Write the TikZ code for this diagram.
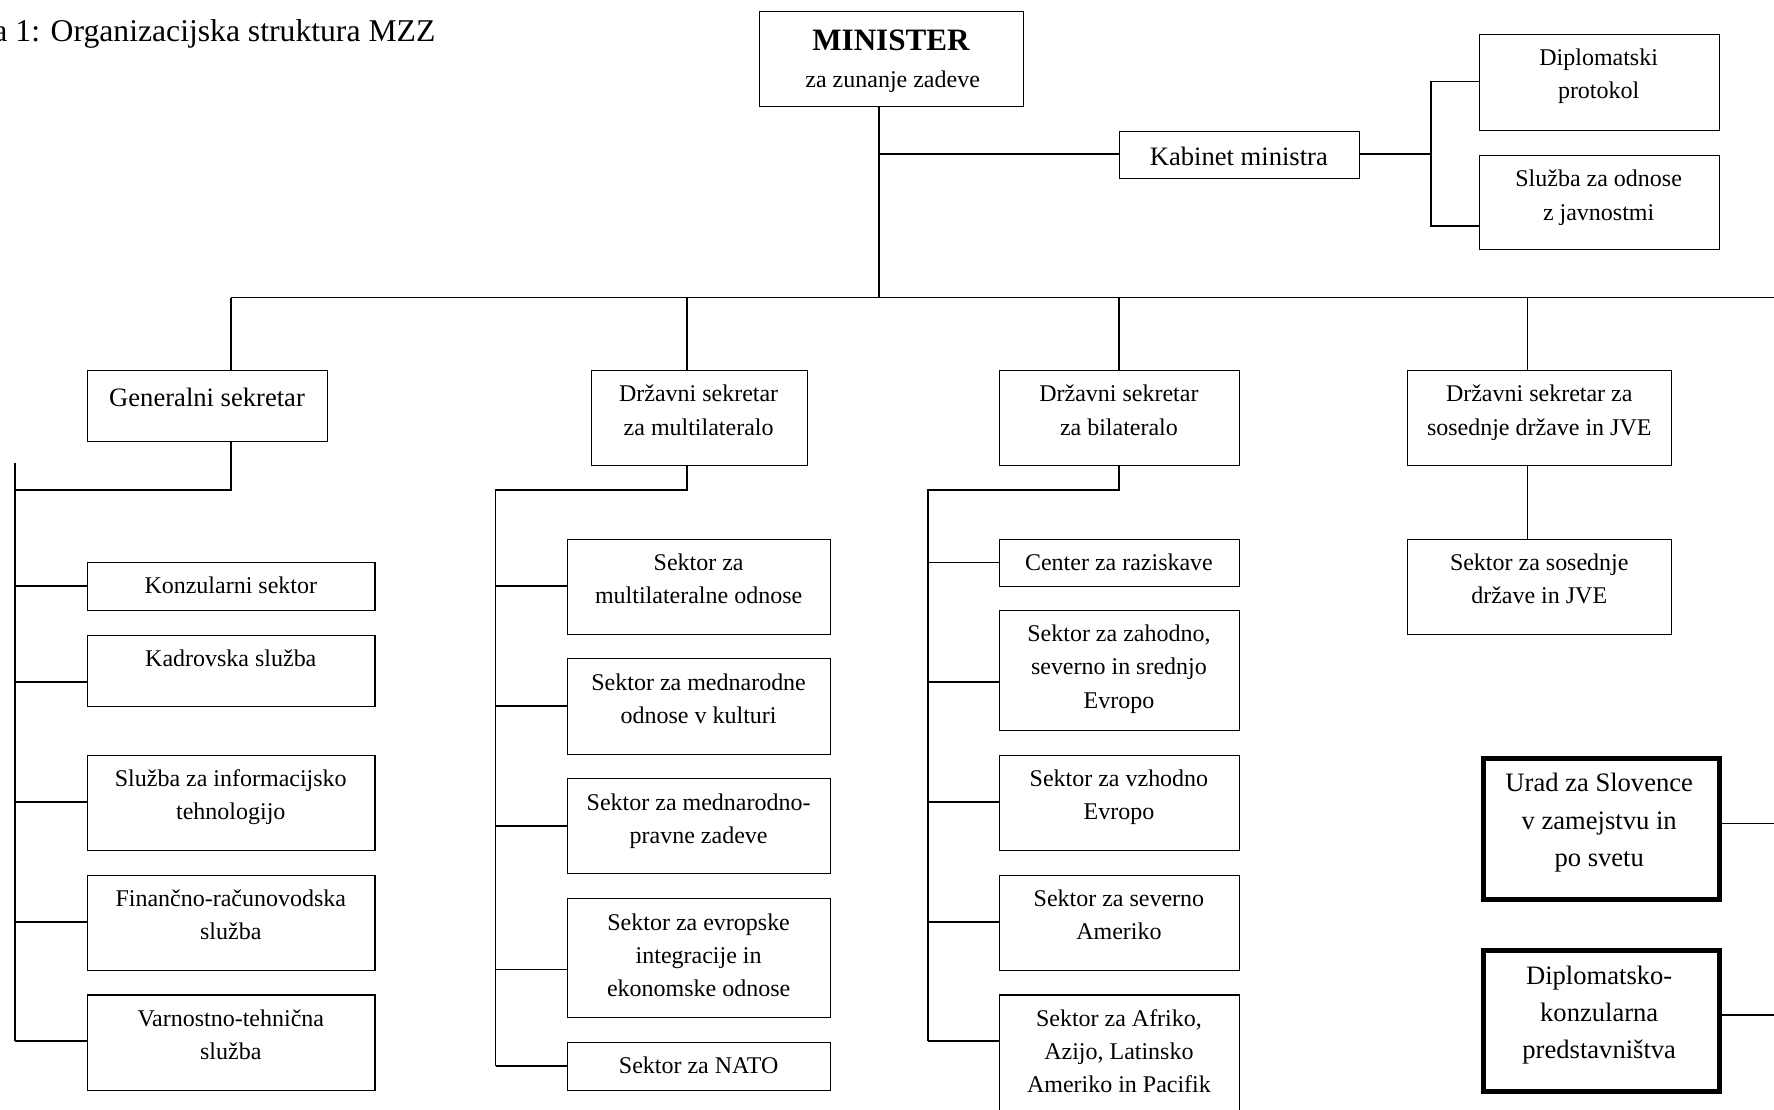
\documentclass[tikz,border=0pt]{standalone}
\usepackage{fontspec}
\setmainfont{Liberation Serif}
\usetikzlibrary{calc}
\tikzset{
  orgbox/.style={draw=black, line width=0.9pt, inner sep=0pt, anchor=north west},
  boldbox/.style={draw=black, line width=4.5pt, inner sep=0pt, anchor=north west},
  lbl/.style={inner sep=0pt, anchor=base, align=center, font=\fontsize{21.2}{29.5}\selectfont},
  lblbig/.style={lbl, font=\fontsize{23.5}{33}\selectfont},
  conn/.style={line width=1.4pt},
}
\begin{document}
\begin{tikzpicture}[x=1pt,y=-1pt]
\clip (0,0) rectangle (1568,981);
\fill[white] (0,0) rectangle (1568,981);

% title (base anchor = last line baseline)
\node[inner sep=0pt, anchor=base east, font=\fontsize{28}{30}\selectfont] (title) at (385,37) {a 1: Organizacijska struktura MZZ};

% top level
\node[orgbox, minimum width=233pt, minimum height=84pt] (min) at (671,10) {};
\node[lbl, font=\fontsize{27.5}{30}\selectfont\bfseries] (minT) at (787.5,44.5) {MINISTER};
\node[lbl] (minS) at (789,77) {za zunanje zadeve};

\node[orgbox, minimum width=212pt, minimum height=41pt] (kab) at (989,116) {};
\node[lblbig] (kabT) at (1095,146) {Kabinet ministra};

\node[orgbox, minimum width=212pt, minimum height=85pt] (dip) at (1307,30) {};
\node[lbl] (dipT) at (1413,87.5) {Diplomatski\\protokol};

\node[orgbox, minimum width=212pt, minimum height=83pt] (sjo) at (1307,137) {};
\node[lbl] (sjoT) at (1413,194.5) {Služba za odnose\\z javnostmi};

% second level
\node[orgbox, minimum width=212pt, minimum height=63pt] (gs) at (77,327) {};
\node[lblbig] (gsT) at (183,359) {Generalni sekretar};

\node[orgbox, minimum width=191pt, minimum height=84pt] (dsm) at (522,327) {};
\node[lbl] (dsmT) at (617.5,384.5) {Državni sekretar\\za multilateralo};

\node[orgbox, minimum width=212pt, minimum height=84pt] (dsb) at (883,327) {};
\node[lbl] (dsbT) at (989,384.5) {Državni sekretar\\za bilateralo};

\node[orgbox, minimum width=233pt, minimum height=84pt] (dss) at (1244,327) {};
\node[lbl] (dssT) at (1360.5,384.5) {Državni sekretar za\\sosednje države in JVE};

% column: generalni sekretar
\node[orgbox, minimum width=254pt, minimum height=42pt] (ks) at (77,497) {};
\node[lbl] (ksT) at (204,525) {Konzularni sektor};
\node[orgbox, minimum width=254pt, minimum height=63pt] (kad) at (77,561) {};
\node[lbl] (kadT) at (204,589) {Kadrovska služba};
\node[orgbox, minimum width=254pt, minimum height=84pt] (sit) at (77,667) {};
\node[lbl] (sitT) at (204,724.5) {Služba za informacijsko\\tehnologijo};
\node[orgbox, minimum width=254pt, minimum height=84pt] (frs) at (77,773) {};
\node[lbl] (frsT) at (204,830.5) {Finančno-računovodska\\služba};
\node[orgbox, minimum width=254pt, minimum height=84pt] (vts) at (77,879) {};
\node[lbl] (vtsT) at (204,936.5) {Varnostno-tehnična\\služba};

% column: multilaterala
\node[orgbox, minimum width=233pt, minimum height=84pt] (smo) at (501,476) {};
\node[lbl] (smoT) at (617.5,533.5) {Sektor za\\multilateralne odnose};
\node[orgbox, minimum width=233pt, minimum height=84pt] (smk) at (501,582) {};
\node[lbl] (smkT) at (617.5,639.5) {Sektor za mednarodne\\odnose v kulturi};
\node[orgbox, minimum width=233pt, minimum height=84pt] (smp) at (501,688) {};
\node[lbl] (smpT) at (617.5,745.5) {Sektor za mednarodno-\\pravne zadeve};
\node[orgbox, minimum width=233pt, minimum height=105pt] (sei) at (501,794) {};
\node[lbl] (seiT) at (617.5,881) {Sektor za evropske\\integracije in\\ekonomske odnose};
\node[orgbox, minimum width=233pt, minimum height=42pt] (nato) at (501,921) {};
\node[lbl] (natoT) at (617.5,949) {Sektor za NATO};

% column: bilaterala
\node[orgbox, minimum width=212pt, minimum height=42pt] (cr) at (883,476) {};
\node[lbl] (crT) at (989,504) {Center za raziskave};
\node[orgbox, minimum width=212pt, minimum height=106pt] (szs) at (883,539) {};
\node[lbl] (szsT) at (989,626) {Sektor za zahodno,\\severno in srednjo\\Evropo};
\node[orgbox, minimum width=212pt, minimum height=84pt] (sve) at (883,667) {};
\node[lbl] (sveT) at (989,724.5) {Sektor za vzhodno\\Evropo};
\node[orgbox, minimum width=212pt, minimum height=84pt] (ssa) at (883,773) {};
\node[lbl] (ssaT) at (989,830.5) {Sektor za severno\\Ameriko};
\node[orgbox, minimum width=212pt, minimum height=120pt] (saf) at (883,879) {};
\node[lbl] (safT) at (989,966) {Sektor za Afriko,\\Azijo, Latinsko\\Ameriko in Pacifik};

% column: sosednje
\node[orgbox, minimum width=233pt, minimum height=84pt] (ssj) at (1244,476) {};
\node[lbl] (ssjT) at (1360.5,533.5) {Sektor za sosednje\\države in JVE};

% bold boxes
\node[boldbox, minimum width=208.5pt, minimum height=124.5pt] (urad) at (1309.25,668.25) {};
\node[lblbig] (uradT) at (1413.5,766) {Urad za Slovence\\v zamejstvu in\\po svetu};
\node[boldbox, minimum width=208.5pt, minimum height=124.5pt] (dkp) at (1309.25,838.25) {};
\node[lblbig] (dkpT) at (1413.5,936) {Diplomatsko-\\konzularna\\predstavništva};

% connectors: top
\coordinate (busL) at (204,263);
\coordinate (busM) at (777,263);
\coordinate (busR) at (1568,263);
\coordinate (kabJ) at (777,136);
\coordinate (kabV) at (1265,136);
\coordinate (dipJ) at (1265,72);
\coordinate (sjoJ) at (1265,200);
\coordinate (dmT) at (607,263);
\coordinate (dbT) at (989,263);
\coordinate (dsT) at (1350,263);

\draw[conn] (busL) -- (busR);
\draw[conn] (busM |- min.south) -- (busM);
\draw[conn] (kabJ) -- (kabJ -| kab.west);
\draw[conn] (kabV -| kab.east) -- (kabV);
\draw[conn] (dipJ -| dip.west) -- (dipJ) -- (sjoJ) -- (sjoJ -| sjo.west);
\draw[conn] (busL) -- (busL |- gs.north);
\draw[conn] (dmT) -- (dmT |- dsm.north);
\draw[conn] (dbT) -- (dbT |- dsb.north);
\draw[conn] (dsT) -- (dsT |- dss.north);

% generalni sekretar subtree
\coordinate (gsJ) at (204,433);
\coordinate (gsV) at (13,433);
\coordinate (gsA) at (13,409);
\coordinate (gsZ) at (13,920);
\draw[conn] (gsJ |- gs.south) -- (gsJ) -- (gsV);
\draw[conn] (gsA) -- (gsZ);
\foreach \n/\yy in {ks/518,kad/603,sit/709,frs/815,vts/920}{
  \coordinate (tmp) at (13,\yy);
  \draw[conn] (tmp) -- (tmp -| \n.west);
}

% multilaterala subtree
\coordinate (dmJ) at (607,433);
\coordinate (dmV) at (438,433);
\coordinate (dmZ) at (438,942);
\draw[conn] (dmJ |- dsm.south) -- (dmJ) -- (dmV) -- (dmZ);
\foreach \n/\yy in {smo/518,smk/624,smp/730,sei/857,nato/942}{
  \coordinate (tmp) at (438,\yy);
  \draw[conn] (tmp) -- (tmp -| \n.west);
}

% bilaterala subtree
\coordinate (dbJ) at (989,433);
\coordinate (dbV) at (820,433);
\coordinate (dbZ) at (820,920);
\draw[conn] (dbJ |- dsb.south) -- (dbJ) -- (dbV) -- (dbZ);
\foreach \n/\yy in {cr/497,szs/603,sve/709,ssa/815,saf/920}{
  \coordinate (tmp) at (820,\yy);
  \draw[conn] (tmp) -- (tmp -| \n.west);
}

% sosednje
\draw[conn] (dsT |- dss.south) -- (dsT |- ssj.north);

% bold boxes connectors
\coordinate (uradR) at (1568,728);
\coordinate (dkpR) at (1568,897);
\draw[conn] (uradR -| urad.east) -- (uradR);
\draw[conn] (dkpR -| dkp.east) -- (dkpR);
\end{tikzpicture}
\end{document}
